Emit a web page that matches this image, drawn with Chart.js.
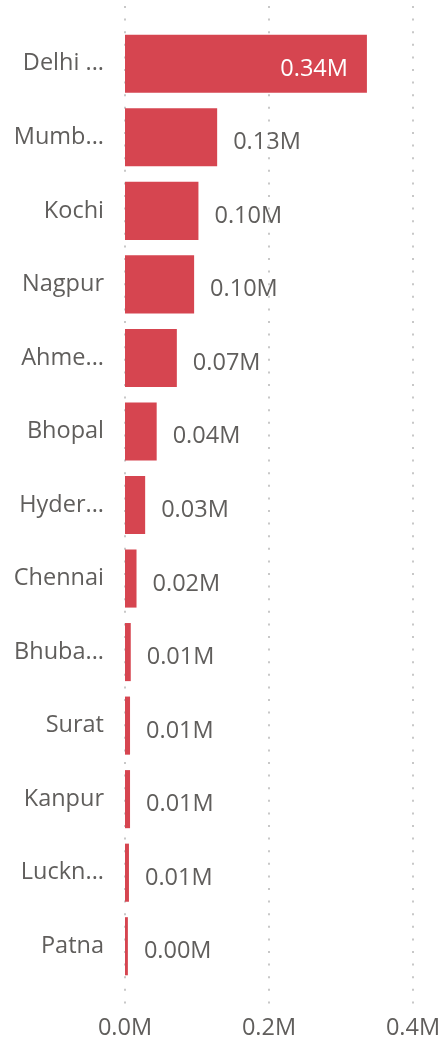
<!DOCTYPE html>
<html>
<head>
<meta charset="utf-8">
<script src="https://cdn.jsdelivr.net/npm/chart.js@4"></script>
<style>
  body { margin: 0; background: #fff; }
  canvas { display: block; }
</style>
</head>
<body>
<canvas id="myChart" width="441" height="1042"></canvas>
<script>
// categories as shown (Power BI truncates the long names)
const categories = ['Delhi ...', 'Mumb...', 'Kochi', 'Nagpur', 'Ahme...', 'Bhopal', 'Hyder...', 'Chennai', 'Bhuba...', 'Surat', 'Kanpur', 'Luckn...', 'Patna'];
// values in millions
const values = [0.336, 0.128, 0.102, 0.096, 0.072, 0.044, 0.028, 0.016, 0.008, 0.007, 0.007, 0.0055, 0.004];
const xTicks = [0, 0.2, 0.4];

const textColor = '#605E5C';
const fontFamily = '"Open Sans", "Noto Sans", sans-serif';
const fontSize = 23.5;

/* grid dotted lines go past the plot area like in Power BI */
const dottedGrid = {
    id: 'dottedGrid',
    beforeDatasetsDraw(chart) {
        const ctx = chart.ctx;
        const x = chart.scales.x;
        ctx.save();
        ctx.strokeStyle = '#C8C8C8';
        ctx.lineWidth = 2;
        ctx.setLineDash([2, 10.6]);
        xTicks.forEach(v => {
            const px = Math.round(x.getPixelForValue(v));
            ctx.beginPath();
            ctx.moveTo(px, 6);
            ctx.lineTo(px, 1006);
            ctx.stroke();
        });
        ctx.restore();
    }
};

/* data labels: outside the bar end, inside when it does not fit */
const barLabels = {
    id: 'barLabels',
    afterDatasetsDraw(chart) {
        const ctx = chart.ctx;
        const meta = chart.getDatasetMeta(0);
        ctx.save();
        ctx.font = fontSize + 'px ' + fontFamily;
        ctx.textBaseline = 'alphabetic';
        meta.data.forEach((bar, i) => {
            const txt = values[i].toFixed(2) + 'M';
            const w = ctx.measureText(txt).width;
            const y = bar.y + 12;
            if (bar.x + 16 + w > chart.chartArea.right) {
                ctx.fillStyle = '#FFFFFF';
                ctx.textAlign = 'right';
                ctx.fillText(txt, bar.x - 19, y);
            } else {
                ctx.fillStyle = textColor;
                ctx.textAlign = 'left';
                ctx.fillText(txt, bar.x + 16, y);
            }
        });
        ctx.restore();
    }
};

const myChart = new Chart(document.getElementById('myChart'), {
    type: 'bar',
    data: {
        labels: categories,
        datasets: [{
            data: values,
            backgroundColor: '#D64550',
            barPercentage: 0.79,
            categoryPercentage: 1
        }]
    },
    options: {
        indexAxis: 'y',
        responsive: false,
        animation: false,
        devicePixelRatio: 1,
        layout: { padding: { top: 27, right: 28, bottom: 0, left: 0 } },
        plugins: {
            legend: { display: false },
            tooltip: { enabled: false }
        },
        scales: {
            x: {
                min: 0,
                max: 0.4,
                afterBuildTicks: s => { s.ticks = xTicks.map(v => ({ value: v })); },
                afterFit: s => { s.height = 59; s.paddingLeft = 0; s.paddingRight = 0; },
                grid: { display: false, drawTicks: false },
                border: { display: false },
                ticks: {
                    padding: 31,
                    color: textColor,
                    maxRotation: 0,
                    font: { family: fontFamily, size: fontSize },
                    callback: v => v.toFixed(1) + 'M'
                }
            },
            y: {
                grid: { display: false, drawTicks: false },
                border: { display: false },
                afterFit: s => { s.width = 125; s.paddingTop = 0; s.paddingBottom = 0; },
                ticks: {
                    padding: 21,
                    color: textColor,
                    font: { family: fontFamily, size: fontSize }
                }
            }
        }
    },
    plugins: [dottedGrid, barLabels]
});
</script>
</body>
</html>
